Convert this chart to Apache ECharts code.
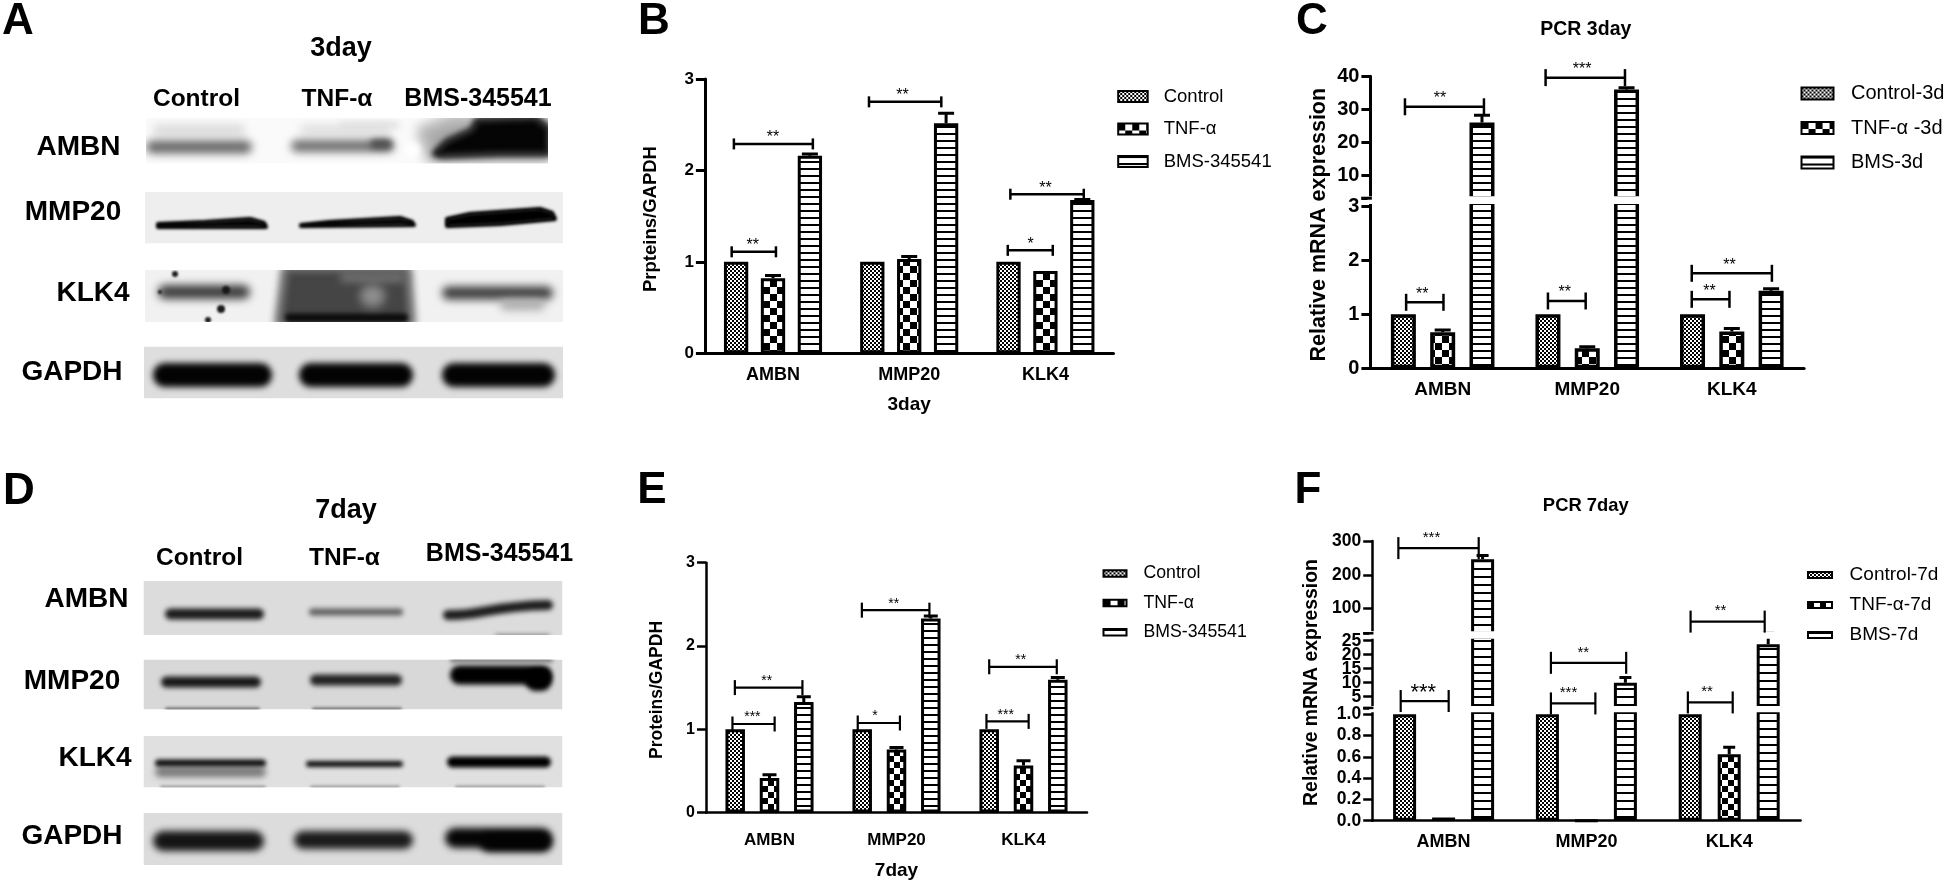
<!DOCTYPE html>
<html><head><meta charset="utf-8">
<style>html,body{margin:0;padding:0;background:#fff}#c{width:1946px;height:881px}</style>
<script src="https://cdn.jsdelivr.net/npm/echarts@6/dist/echarts.min.js"></script>
</head><body><div id="c"></div>
<script>
// ---------- data ----------
const categories = ['AMBN','MMP20','KLK4'];

const bNames = ['Control','TNF-α','BMS-345541'];
const bControl = [1,1,1];
const bTnf = [0.82,1.03,0.90];
const bBms = [2.16,2.515,1.677];
const bTnfErr = [0.03,0.03,0];
const bBmsErr = [0.02,0.11,0.005];
const bTicks = [0,1,2,3];
// [category, from (bar pitches from centre), to, level, stars, star position]
const bBrackets = [[0,-1.12,0.08,1.11,'**',-0.55],[0,-1.06,1.08,2.29,'**',0],[1,-1.09,0.87,2.75,'**',-0.18],[2,-1.02,0.2,1.126,'*',-0.4],[2,-0.95,1.04,1.74,'**',0]];

const cNames = ['Control-3d','TNF-α -3d','BMS-3d'];
const cControl = [1,1,1];
const cTnf = [0.665,0.37,0.678];
const cBms = [26.07,36.04,1.435];
const cTnfErr = [0.045,0.03,0.06];
const cBmsErr = [2.2,0.5,0.035];
const cTicksLow = [0,1,2,3];
const cTicksHigh = [3.2,10,20,30,40];
const cLabelsHigh = [10,20,30,40];
const cBracketsLow = [[0,-0.93,0.02,1.22,'**',-0.52],[1,-1,-0.04,1.245,'**',-0.57],[2,-1.02,-0.06,1.275,'**',-0.57],[2,-1.02,1.02,1.756,'**',-0.06]];
const cBracketsHigh = [[0,-0.96,1.05,30.8,'**',-0.07],[1,-1.06,0.96,39.6,'***',-0.13]];

const eNames = bNames;
const eControl = [1,1,1];
const eTnf = [0.413,0.756,0.563];
const eBms = [1.327,2.33,1.594];
const eTnfErr = [0.04,0.024,0.059];
const eBmsErr = [0.063,0.03,0.026];
const eTicks = [0,1,2,3];
const eBrackets = [[0,-1.08,0.15,1.063,'***',-0.5],[0,-1.01,0.96,1.5,'**',-0.08],[1,-1.13,0.1,1.075,'*',-0.63],[1,-1.01,0.96,2.43,'**',-0.08],[2,-1.08,0.15,1.094,'***',-0.52],[2,-1,0.97,1.75,'**',-0.08]];

const fNames = ['Control-7d','TNF-α-7d','BMS-7d'];
const fControl = [1,1,1];
const fTnf = [0.03,0,0.624];
const fBms = [245.8,10,23.7];
const fTnfErr = [0,0,0.066];
const fBmsErr = [11,1.9,3.9];
const fTicksLow = [0,0.2,0.4,0.6,0.8,1];
const fTicksMid = [1,5,10,15,20,25];
const fLabelsMidEven = [10,20];
const fLabelsMidOdd = [5,15,25];
const fTicksHigh = [27,100,200,300];
const fLabelsHigh = [100,200,300];
const fBracketsBig = [[0,-1.1,0.13,3.45,'***',-0.52]];
const fBracketsMid = [[1,-0.91,0.23,2.6,'***',-0.46],[2,-1.06,0.09,2.95,'**',-0.57],[1,-0.91,1.02,17.1,'**',-0.08]];
const fBracketsHigh = [[0,-1.16,0.9,279,'***',-0.31],[2,-0.99,0.91,61.6,'**',-0.22]];

// ---------- patterns ----------
function cv(w,h,draw){const c=document.createElement('canvas');c.width=w;c.height=h;const x=c.getContext('2d');x.fillStyle='#fff';x.fillRect(0,0,w,h);x.fillStyle='#000';draw(x);return c;}
const checker = s => ({image:cv(2*s,2*s,x=>{x.fillRect(0,0,s,s);x.fillRect(s,s,s,s);}),repeat:'repeat'});
const stripes = (p,t) => ({image:cv(4,p,x=>{x.fillRect(0,0,4,t);}),repeat:'repeat'});

// ---------- builders ----------
const FONT='"Liberation Sans"';
const grid=[],xAxis=[],yAxis=[],series=[],legend=[],title=[],extraAxes=[];
function addPanel(p){
  const patterns=[checker(2),checker(p.cell),stripes(p.stripe,2)];
  p.segs.forEach((s,si)=>{
    const g=grid.length;
    grid.push({left:p.left,width:p.width,top:s.top,height:s.bottom-s.top});
    xAxis.push(si===0?{gridIndex:g,type:'category',data:categories,name:p.xName||'',nameLocation:'middle',nameGap:p.xNameGap||0,
        nameTextStyle:{fontFamily:FONT,fontWeight:'bold',fontSize:19,color:'#000'},
        axisLine:{lineStyle:{color:'#000',width:p.axisW}},axisTick:{alignWithLabel:true,length:8,lineStyle:{color:'#000',width:p.axisW}},
        axisLabel:{color:'#000',fontFamily:FONT,fontWeight:'bold',fontSize:p.xFont,margin:p.xMargin,interval:0}}
      :{gridIndex:g,type:'category',data:categories,show:false});
    const labelStyle={color:'#000',fontFamily:FONT,fontWeight:'bold',fontSize:p.yFont,margin:11,formatter:s.fmt||(v=>String(v))};
    yAxis.push({gridIndex:g,type:'value',position:'left',min:s.min,max:s.max,splitLine:{show:false},
      axisLine:{show:true,onZero:false,lineStyle:{color:'#000',width:p.axisW}},
      axisTick:{show:true,length:9,customValues:s.ticks,lineStyle:{color:'#000',width:p.axisW}},
      axisLabel:Object.assign({show:true,customValues:s.labels||s.ticks},labelStyle)});
    if(s.labels2) extraAxes.push({gridIndex:g,type:'value',position:'left',min:s.min,max:s.max,splitLine:{show:false},
      axisLine:{show:false},axisTick:{show:false},
      axisLabel:Object.assign({show:true,customValues:s.labels2},labelStyle)});
    p.vals.forEach((v,k)=>series.push({type:'bar',name:p.names[k],xAxisIndex:g,yAxisIndex:g,data:v,clip:true,
      barWidth:p.barW,barGap:((p.pitch-p.barW)/p.barW*100)+'%',
      itemStyle:{color:patterns[k],borderColor:'#000',borderWidth:p.border}}));
    // error bars
    const errs=[];
    [1,2].forEach(k=>p.errs[k-1].forEach((e,c)=>{if(e>0)errs.push([c,k-1,p.vals[k][c],p.vals[k][c]+e]);}));
    series.push({type:'custom',xAxisIndex:g,yAxisIndex:g,clip:true,z:3,silent:true,data:errs.map(d=>[d[0],d[3]]),
      renderItem:(params,api)=>{const d=errs[params.dataIndex];
        const a=api.coord([d[0],d[2]]),b=api.coord([d[0],d[3]]);
        const x=a[0]+d[1]*p.pitch,st={stroke:'#000',lineWidth:p.errW};
        return {type:'group',children:[
          {type:'line',shape:{x1:x,y1:a[1],x2:x,y2:b[1]},style:st},
          {type:'line',shape:{x1:x-p.capW/2,y1:b[1],x2:x+p.capW/2,y2:b[1]},style:st}]};}});
    // significance brackets
    (s.brackets||[]).forEach(list=>{
      const rows=list.rows;
      series.push({type:'custom',xAxisIndex:g,yAxisIndex:g,clip:false,z:20,silent:true,data:rows.map(b=>[b[0],b[3]]),
        renderItem:(params,api)=>{const b=rows[params.dataIndex];
          const c=api.coord([b[0],b[3]]),x1=c[0]+b[1]*p.pitch,x2=c[0]+b[2]*p.pitch,y=c[1],st={stroke:'#000',lineWidth:p.brW};
          const size=list.starSize||p.starSize;
          return {type:'group',children:[
            {type:'line',shape:{x1,y1:y,x2,y2:y},style:st},
            {type:'line',shape:{x1,y1:y-p.brTick,x2:x1,y2:y+p.brTick},style:st},
            {type:'line',shape:{x1:x2,y1:y-p.brTick,x2,y2:y+p.brTick},style:st},
            {type:'text',style:{text:b[4],x:c[0]+b[5]*p.pitch,y:y-p.starGap+size*0.25,align:'center',verticalAlign:'middle',font:size+'px '+FONT,fill:'#000'}}]};}});
    });
  });
  legend.push(Object.assign({data:p.names,orient:'vertical',icon:'rect',padding:0,selectedMode:false,
    textStyle:{fontFamily:FONT,fontSize:p.legend.font,color:'#000',padding:[0,0,0,p.legend.pad]}},p.legend.box));
  if(p.title) title.push({text:p.title.text,left:p.title.x,top:p.title.y,textAlign:'center',textVerticalAlign:'middle',padding:0,
    textStyle:{fontFamily:FONT,fontWeight:'bold',fontSize:p.title.font,color:'#000'}});
}

addPanel({left:704.9,width:408.6,pitch:36.9,barW:24.3,border:3,axisW:3,errW:3,capW:16,brW:2.5,brTick:5.5,starGap:10,starSize:16,cell:7,stripe:7,
  xFont:18,yFont:17,xMargin:12.5,xName:'3day',xNameGap:42,
  names:bNames,vals:[bControl,bTnf,bBms],errs:[bTnfErr,bBmsErr],
  segs:[{top:79,bottom:353.3,min:0,max:3,ticks:bTicks,brackets:[{rows:bBrackets}]}],
  legend:{font:18.5,pad:11,box:{left:1117.2,top:87,itemWidth:29.5,itemHeight:11,itemGap:13.5}}});

addPanel({left:1370.4,width:433.7,pitch:39.3,barW:25,border:3.5,axisW:3,errW:3,capW:16,brW:2.5,brTick:8.5,starGap:12,starSize:16,cell:7,stripe:7,
  xFont:19,yFont:20,xMargin:12,
  names:cNames,vals:[cControl,cTnf,cBms],errs:[cTnfErr,cBmsErr],
  title:{text:'PCR 3day',x:1585.8,y:30,font:19.5},
  segs:[{top:202.5,bottom:368.3,min:0,max:3.065,ticks:cTicksLow,brackets:[{rows:cBracketsLow}]},
        {top:76.3,bottom:198.2,min:3.2,max:40,ticks:cTicksHigh,labels:cLabelsHigh,brackets:[{rows:cBracketsHigh}]}],
  legend:{font:20,pad:12.5,box:{left:1800.5,top:83.5,itemWidth:32,itemHeight:12,itemGap:14.5}}});

addPanel({left:706,width:381,pitch:34.3,barW:19.5,border:3,axisW:2.5,errW:3,capW:14,brW:2.2,brTick:7.5,starGap:10,starSize:14,cell:6,stripe:7,
  xFont:17,yFont:16,xMargin:19,xName:'7day',xNameGap:48.5,
  names:eNames,vals:[eControl,eTnf,eBms],errs:[eTnfErr,eBmsErr],
  segs:[{top:562.7,bottom:816.7,min:0,max:3,ticks:eTicks,brackets:[{rows:eBrackets}]}],
  legend:{font:17.7,pad:12,box:{left:1102.5,top:564.6,itemWidth:23,itemHeight:6.5,itemGap:11.3}}});

addPanel({left:1372.2,width:428.4,pitch:39,barW:23,border:3,axisW:2.5,errW:3,capW:12,brW:2.2,brTick:11,starGap:14,starSize:15,cell:6,stripe:8,
  xFont:18,yFont:17.5,xMargin:12,
  names:fNames,vals:[fControl,fTnf,fBms],errs:[fTnfErr,fBmsErr],
  title:{text:'PCR 7day',x:1585.8,y:505.7,font:18.4},
  segs:[{top:710.8,bottom:820.7,min:0,max:1.033,ticks:fTicksLow,fmt:v=>v.toFixed(1)},
        {top:637.2,bottom:707.9,min:1,max:26.25,ticks:fTicksMid,labels:fLabelsMidEven,labels2:fLabelsMidOdd,brackets:[{rows:fBracketsMid},{rows:fBracketsBig,starSize:22}]},
        {top:541,bottom:633.3,min:27,max:300,ticks:fTicksHigh,labels:fLabelsHigh,brackets:[{rows:fBracketsHigh}]}],
  legend:{font:19,pad:12.6,box:{left:1807,top:565.5,itemWidth:24,itemHeight:6,itemGap:11}}});

const chart=echarts.init(document.getElementById('c'),null,{renderer:'canvas'});
chart.setOption({animation:false,backgroundColor:'#fff',title,legend,grid,xAxis,yAxis:yAxis.concat(extraAxes),series});

// ---------- western-blot photographs, painted on one image ----------
const blotCanvas=document.createElement('canvas');blotCanvas.width=600;blotCanvas.height=881;
const bx=blotCanvas.getContext('2d');
function membrane(x1,x2,y1,y2,bg,paint){bx.save();bx.beginPath();bx.rect(x1,y1,x2-x1,y2-y1);bx.clip();bx.fillStyle=bg;bx.fillRect(x1,y1,x2-x1,y2-y1);paint();bx.restore();}
function band(x1,x2,yc,t,c,b){bx.save();bx.filter='blur('+(b||3)+'px)';bx.fillStyle=c;bx.beginPath();bx.roundRect(x1,yc-t/2,x2-x1,t,t/2);bx.fill();bx.restore();}
function blob(pts,c,b){bx.save();bx.filter='blur('+(b||2)+'px)';bx.fillStyle=c;bx.strokeStyle=c;bx.lineJoin='round';bx.lineWidth=4;bx.beginPath();pts.forEach((p,i)=>i?bx.lineTo(p[0],p[1]):bx.moveTo(p[0],p[1]));bx.closePath();bx.fill();bx.stroke();bx.restore();}
// panel A
membrane(146,548,118,163.5,'#fafafa',()=>{
  band(153,245,130,10,'#d8d8d8',4);band(300,392,130,10,'#dedede',4);band(340,400,125,5,'#ddd',3);
  band(146,252,147,13,'#686868',4);band(291,394,146,12,'#6e6e6e',4);band(370,392,144,9,'#4c4c4c',3);
  blob([[420,130],[450,118],[548,116],[548,160],[430,160]],'#aaa',6);
  blob([[434,154],[447,141],[472,130],[477,120],[535,118],[549,128],[549,154],[500,154],[442,156]],'#050505',3);
  band(405,420,150,14,'#fff',3);
});
membrane(145,563,192,243.5,'#eeeeee',()=>{
  blob([[158,224],[205,222],[250,219],[264,223],[266,227],[158,227]],'#050505',1.5);
  blob([[301,225],[330,222],[400,218],[412,222],[414,225],[301,226]],'#050505',1.5);
  blob([[447,219],[470,214],[540,209],[552,213],[555,219],[500,224],[447,226]],'#000',1.5);
});
membrane(145,563,270,322,'#f1f1f1',()=>{
  band(158,250,292,14,'#3c3c3c',4);
  [[175,274,3],[226,290,4],[221,309,4],[208,320,3],[160,292,2]].forEach(s=>band(s[0]-s[2],s[0]+s[2],s[1],s[2]*2,'#1a1a1a',1));
  blob([[285,268],[408,268],[412,324],[278,324]],'#454545',4);
  band(285,408,318,9,'#0c0c0c',2);band(360,385,296,22,'#8d8d8d',5);band(340,405,278,6,'#888',4);
  band(442,553,293,13,'#3a3a3a',4);band(500,545,305,10,'#aaa',4);
});
membrane(144,563,346.5,398.5,'#dedede',()=>{band(153,272,375,24,'#030303',3);band(299,413,375,24,'#030303',3);band(442,555,375,24,'#030303',3);});
// panel D
membrane(143.5,562.5,581,635,'#dcdcdc',()=>{
  band(165,264,614,11,'#1c1c1c',2.5);band(309,403,612,7,'#5e5e5e',2.5);
  bx.save();bx.filter='blur(2.5px)';bx.strokeStyle='#1c1c1c';bx.lineWidth=10;bx.lineCap='round';bx.beginPath();bx.moveTo(448,615);bx.bezierCurveTo(480,616,490,606,548,605);bx.stroke();bx.restore();
  band(495,550,636,4,'#888',2);
});
membrane(143.5,562.5,659.5,709.5,'#d8d8d8',()=>{
  band(161,261,682,11,'#181818',2.5);band(310,402,680,11,'#222',2.5);
  band(450,552,675,19,'#000',2.5);band(525,552,680,22,'#000',2.5);band(450,553,660,5,'#777',2);
  band(165,260,709,3,'#666',1.5);band(312,402,709,3,'#666',1.5);
});
membrane(143.5,562.5,736,787.5,'#e0e0e0',()=>{
  band(155,266,772,10,'#777',3);band(155,266,763,7,'#0c0c0c',2);band(306,403,764,6,'#0c0c0c',2);band(447,551,762,11,'#000',2);
  band(160,266,787,3,'#999',1.5);band(310,400,787,3,'#999',1.5);band(455,545,787,3,'#999',1.5);
});
membrane(143.5,562.5,813,865,'#dcdcdc',()=>{band(153,264,841,20,'#141414',3.5);band(294,413,840,18,'#1a1a1a',3.5);band(445,552,838,20,'#050505',3.5);band(480,552,843,18,'#030303',3.5);});

// ---------- panel letters, free labels, axis-break strips ----------
const T=(text,x,y,size,o)=>Object.assign({type:'text',z:12,silent:true,x,y,style:{text,align:'center',verticalAlign:'middle',font:'bold '+size+'px '+FONT,fill:'#000'}},o||{});
const G=[{type:'image',z:1,silent:true,style:{image:blotCanvas,x:0,y:0,width:600,height:881}}];
[['A',18,22],['B',654,22],['C',1312,22],['D',19,492],['E',652,491],['F',1308,491]].forEach(l=>G.push(T(l[0],l[1],l[2],44)));
G.push(T('3day',341,49,27),T('Control',196.5,99,24.5),T('TNF-α',337,99,24.5),T('BMS-345541',478,99,25));
G.push(T('AMBN',78.5,147,28),T('MMP20',73,212,28),T('KLK4',93,293,28),T('GAPDH',72,372,28));
G.push(T('7day',346,511,27),T('Control',199.5,558,24.5),T('TNF-α',344.5,558,24.5),T('BMS-345541',499.5,554,25));
G.push(T('AMBN',86.5,599,28),T('MMP20',72,681,28),T('KLK4',95,758,28),T('GAPDH',72,836,28));
// y-axis titles
G.push(T('Prpteins/GAPDH',651,219,18.5,{rotation:Math.PI/2}),T('Proteins/GAPDH',657,690,17.5,{rotation:Math.PI/2}));
G.push(T('Relative mRNA expression',1319,224.7,21.5,{rotation:Math.PI/2}),T('Relative mRNA expression',1312,682.5,19.4,{rotation:Math.PI/2}));
// axis breaks: positions taken from each value axis
function brk(lowAxis,lowVal,highAxis,highVal,left,right,axisW){
  const yl=chart.convertToPixel({yAxisIndex:lowAxis},lowVal),yh=chart.convertToPixel({yAxisIndex:highAxis},highVal);
  G.push({type:'rect',z:5,silent:true,shape:{x:left-3,y:yh-2,width:right-left+6,height:yl-2-(yh-2)},style:{fill:'#fff'}});
  G.push({type:'line',z:6,silent:true,shape:{x1:left-9,y1:yh,x2:left+axisW/2,y2:yh},style:{stroke:'#000',lineWidth:axisW}});
}
// axis indices: B=0, C=1,2, E=3, F=4,5,6
brk(1,3,2,3.2,1370.4,1804.1,3);
brk(4,1,5,1,1372.2,1800.6,2.5);
brk(5,25,6,27,1372.2,1800.6,2.5);
chart.setOption({graphic:{elements:G}});
</script></body></html>
